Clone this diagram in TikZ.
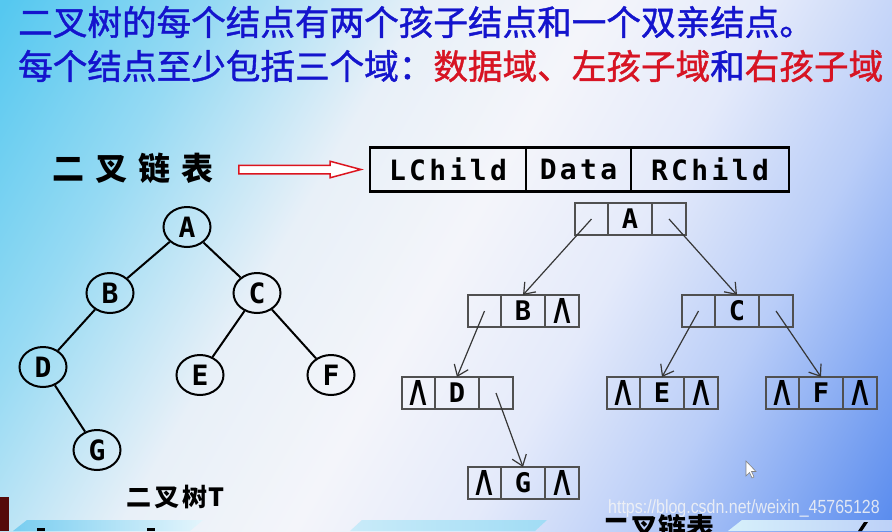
\documentclass[tikz,border=0pt]{standalone}
\usepackage{fontspec}
\newfontfamily\cjk{Noto Sans CJK SC}
\newfontfamily\cjkt{Noto Sans CJK SC}[FakeBold=1.2]
\newfontfamily\mono{DejaVu Sans Mono}
\newfontfamily\symb{DejaVu Sans}
\newfontfamily\wmark{Liberation Sans}
\usetikzlibrary{positioning,shapes.geometric,shapes.arrows,arrows.meta}
\definecolor{titleblue}{RGB}{20,20,205}
\definecolor{titlered}{RGB}{215,20,35}
\definecolor{arrowred}{RGB}{220,20,30}
\definecolor{cellgray}{RGB}{80,80,80}
\definecolor{linkgray}{RGB}{55,55,55}
\definecolor{darkred}{RGB}{85,10,10}
\definecolor{decocyan}{RGB}{120,205,240}
\definecolor{bgA}{RGB}{85,200,240}
\definecolor{bgB}{RGB}{150,218,243}
\definecolor{bgC}{RGB}{232,240,248}
\definecolor{bgD}{RGB}{244,245,250}
\definecolor{bgE}{RGB}{228,234,250}
\definecolor{bgF}{RGB}{185,205,248}
\definecolor{bgG}{RGB}{90,140,238}
\pgfdeclarehorizontalshading{slidebg}{100bp}{color(0bp)=(bgA); color(16bp)=(bgA); color(28bp)=(bgB); color(40bp)=(bgC); color(50bp)=(bgD); color(60bp)=(bgE); color(70bp)=(bgF); color(84bp)=(bgG); color(100bp)=(bgG)}
\newcommand{\nil}{{\symb\mdseries\fontsize{32}{32}\selectfont\scalebox{1.1}[1.35]{∧}}}
\newcommand{\listnode}[6]% name, left, top, lchild, data, rchild
{\node[cell, minimum width=33] (#1l) at (#2+16.5,#3+16) {#4};
\node[cell, minimum width=44, right=0pt of #1l] (#1d) {#5};
\node[cell, minimum width=34, right=0pt of #1d] (#1r) {#6};
}
\tikzset{
  vertex/.style={ellipse, draw, line width=2, minimum width=47, minimum height=40, inner sep=0,
    font=\mono\bfseries\fontsize{28}{28}\selectfont},
  edge/.style={line width=2},
  cell/.style={draw=cellgray, line width=1.1, inner sep=0, outer sep=0, minimum height=32,
    font=\mono\bfseries\fontsize{27}{27}\selectfont},
  head/.style={draw, line width=2.5, inner sep=0, outer sep=0, minimum height=44,
    font=\mono\bfseries\fontsize{28}{28}\selectfont\addfontfeature{LetterSpace=12}},
  link/.style={draw=linkgray, line width=1.2, -{Straight Barb[length=10pt,width=15pt]}}
}

\begin{document}
\begin{tikzpicture}[x=1pt,y=-1pt]
	\useasboundingbox (0,0) rectangle (892,531);
	\clip (0,0) rectangle (892,531);
	\shade[shading=slidebg, shading angle=-30] (0,0) rectangle (892,531);
	% bottom strip
	\fill[darkred] (0,497) rectangle (9,531);
	\shade[left color=decocyan, right color=white!80!decocyan] (13,531) -- (27,520) -- (203,520) -- (190,531) -- cycle;
	\shade[left color=white!60!decocyan, right color=decocyan!70] (350,531) -- (362,520) -- (547,520) -- (535,531) -- cycle;
	\shade[left color=white!70!decocyan, right color=white!60!bgG] (728,531) -- (742,520) -- (892,520) -- (892,531) -- cycle;
	\fill (37,528) rectangle (45,531);
	\fill (147,528) rectangle (155,531);
	\fill (858,531) -- (864,522) -- (868,522) -- (862,531) -- cycle;
	% heading
	\node[anchor=west, inner sep=0, text=titleblue, font=\cjkt\fontsize{34.6}{40}\selectfont] (line1) at (18,22) {二叉树的每个结点有两个孩子结点和一个双亲结点。};
	\node[anchor=west, inner sep=0, text=titleblue, font=\cjkt\fontsize{34.6}{40}\selectfont] (line2) at (18,66) {每个结点至少包括三个域：\textcolor{titlered}{数据域、左孩子域}和\textcolor{titlered}{右孩子域}};
	% node layout
	\node[font=\cjk\bfseries\fontsize{32}{32}\selectfont, inner sep=0] (lbl) at (133,168) {二\hspace{11pt}叉\hspace{11pt}链\hspace{11pt}表};
	\node[single arrow, draw=arrowred, fill=white, line width=1.5, minimum height=122, minimum width=15,
	  single arrow head extend=4, single arrow tip angle=30, inner sep=3.5] (arr) at (292,169.5) {};
	\node[head, minimum width=156] (lc) at (448,169.5) {LChild};
	\node[head, minimum width=105, right=0pt of lc] (dt) {Data};
	\node[head, minimum width=158, right=0pt of dt] (rc) {RChild};
	% binary tree T
	\node[vertex] (A) at (187,227) {A};
	\node[vertex] (B) at (110,293) {B};
	\node[vertex] (C) at (257,293) {C};
	\node[vertex] (D) at (43,367) {D};
	\node[vertex] (E) at (200,375) {E};
	\node[vertex] (F) at (331,375) {F};
	\node[vertex] (G) at (97,450) {G};
	\draw[edge] (A) -- (B);
	\draw[edge] (A) -- (C);
	\draw[edge] (B) -- (D);
	\draw[edge] (D) -- (G);
	\draw[edge] (C) -- (E);
	\draw[edge] (C) -- (F);
	\node[font=\cjk\bfseries\fontsize{25}{25}\selectfont, inner sep=0] (cap1) at (175,497) {二\hspace{3pt}叉\hspace{3pt}树\hspace{1pt}T};
	% binary linked list
	\listnode{a}{575}{203}{}{A}{}
	\listnode{b}{468}{295}{}{B}{\nil}
	\listnode{c}{682}{295}{}{C}{}
	\listnode{d}{402}{377}{\nil}{D}{}
	\listnode{e}{607}{377}{\nil}{E}{\nil}
	\listnode{f}{766}{377}{\nil}{F}{\nil}
	\listnode{g}{468}{467}{\nil}{G}{\nil}
	\draw[link] (al.center) -- (bd.north);
	\draw[link] (ar.center) -- (cd.north);
	\draw[link] (bl.center) -- (dd.north);
	\draw[link] (cl.center) -- (ed.north);
	\draw[link] (cr.center) -- (fd.north);
	\draw[link] (dr.center) -- (gd.north);
	\node[font=\cjk\bfseries\fontsize{28}{28}\selectfont, inner sep=0] (cap2) at (658,528) {二叉链表};
	\node[font=\wmark\fontsize{19}{19}\selectfont, text=white!92!gray, opacity=0.85, inner sep=0] (wm) at (744,509) {\scalebox{0.84}[1]{https://blog.csdn.net/weixin\_45765128}};
	% pointer
	\draw[gray, fill=white, line width=0.6] (746,461) -- (746,476) -- (749.5,472.5) -- (752,478) -- (754,477) -- (751.5,471.5) -- (756,471.5) -- cycle;
\end{tikzpicture}
\end{document}
